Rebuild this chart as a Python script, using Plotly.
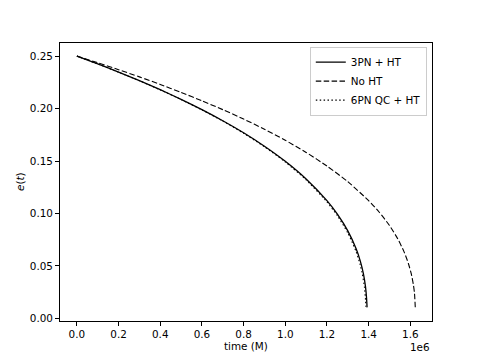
"""Eccentricity evolution e(t): 3PN + HT vs No HT vs 6PN QC + HT"""

import plotly.graph_objects as go

# time in units of 1e6 M, eccentricity
t_3pn_ht = [0.0, 0.1, 0.2, 0.3, 0.4, 0.5, 0.6, 0.7, 0.8, 0.9, 1.0, 1.1, 1.2,
            1.25, 1.3, 1.34, 1.36, 1.375, 1.385, 1.39, 1.3925]
e_3pn_ht = [0.250, 0.2426, 0.2348, 0.2266, 0.2180, 0.2088, 0.1990, 0.1884,
            0.1769, 0.1641, 0.1497, 0.1329, 0.1122, 0.0993, 0.0834, 0.0663,
            0.0546, 0.0425, 0.0301, 0.0193, 0.0105]

t_no_ht = [0.0, 0.1, 0.2, 0.3, 0.4, 0.5, 0.6, 0.7, 0.8, 0.9, 1.0, 1.1, 1.2,
           1.3, 1.4, 1.45, 1.5, 1.54, 1.57, 1.59, 1.605, 1.615, 1.62, 1.624]
e_no_ht = [0.250, 0.2437, 0.2371, 0.2302, 0.2230, 0.2154, 0.2074, 0.1990,
           0.1900, 0.1803, 0.1698, 0.1582, 0.1452, 0.1303, 0.1122, 0.1014,
           0.0885, 0.0757, 0.0634, 0.0528, 0.0421, 0.0318, 0.0240, 0.0095]

t_6pn_qc = [0.0, 0.1, 0.2, 0.3, 0.4, 0.5, 0.6, 0.7, 0.8, 0.9, 1.0, 1.1, 1.2,
            1.25, 1.3, 1.34, 1.36, 1.37, 1.38, 1.385, 1.3865]
e_6pn_qc = [0.250, 0.2425, 0.2347, 0.2265, 0.2178, 0.2086, 0.1987, 0.1881,
            0.1765, 0.1636, 0.1491, 0.1321, 0.1110, 0.0979, 0.0815, 0.0635,
            0.0507, 0.0420, 0.0294, 0.0177, 0.0110]

x_ticks = [0.0, 0.2, 0.4, 0.6, 0.8, 1.0, 1.2, 1.4, 1.6]
y_ticks = [0.00, 0.05, 0.10, 0.15, 0.20, 0.25]

FONT = "DejaVu Sans, Liberation Sans, sans-serif"

fig = go.Figure()
fig.add_trace(go.Scatter(x=t_3pn_ht, y=e_3pn_ht, mode="lines", name="3PN + HT",
                         line=dict(color="black", width=1.3, shape="spline", smoothing=0.6)))
fig.add_trace(go.Scatter(x=t_no_ht, y=e_no_ht, mode="lines", name="No HT",
                         line=dict(color="black", width=1.1, dash="5.5px,2.4px",
                                   shape="spline", smoothing=0.6)))
fig.add_trace(go.Scatter(x=t_6pn_qc, y=e_6pn_qc, mode="lines", name="6PN QC + HT",
                         line=dict(color="black", width=1.1, dash="1.5px,2.4px",
                                   shape="spline", smoothing=0.6)))

axis_common = dict(
    showgrid=False, zeroline=False, showline=True, linecolor="black",
    linewidth=1, mirror=True, ticks="outside", ticklen=4, tickwidth=1,
    tickcolor="black", tickfont=dict(size=10.4, color="black"), automargin=False,
)

fig.update_layout(
    width=480, height=361,
    margin=dict(l=60, r=48, t=43, b=40),
    paper_bgcolor="white", plot_bgcolor="white",
    font=dict(family=FONT, size=10.4, color="black"),
    xaxis=dict(range=[-0.081, 1.704], tickvals=x_ticks, tickformat=".1f",
               **axis_common),
    yaxis=dict(range=[-0.0025, 0.2625], tickvals=y_ticks, tickformat=".2f",
               **axis_common),
    legend=dict(x=0.986, y=0.987, xanchor="right", yanchor="top",
                bgcolor="rgba(255,255,255,0.8)", bordercolor="#cccccc",
                borderwidth=1, font=dict(size=10.4), tracegroupgap=0),
    showlegend=True,
)

# axis titles and matplotlib-style offset label
fig.add_annotation(text="time (M)", xref="paper", yref="paper", x=0.5, y=-0.09,
                   xanchor="center", yanchor="middle", showarrow=False,
                   font=dict(size=10.4, color="black"))
fig.add_annotation(text="<i>e</i>(<i>t</i>)", xref="paper", yref="paper",
                   x=-0.1075, y=0.5, xanchor="center", yanchor="middle",
                   textangle=-90, showarrow=False, font=dict(size=10.4, color="black"))
fig.add_annotation(text="1e6", xref="paper", yref="paper", x=1.0, y=-0.094,
                   xanchor="right", yanchor="middle", showarrow=False,
                   font=dict(size=10.4, color="black"))

# drop the browser's default 8px body margin so the figure sits at the page origin
fig.write_html("out.html", config={"displayModeBar": False},
               post_script="document.body.style.margin = '0';")
